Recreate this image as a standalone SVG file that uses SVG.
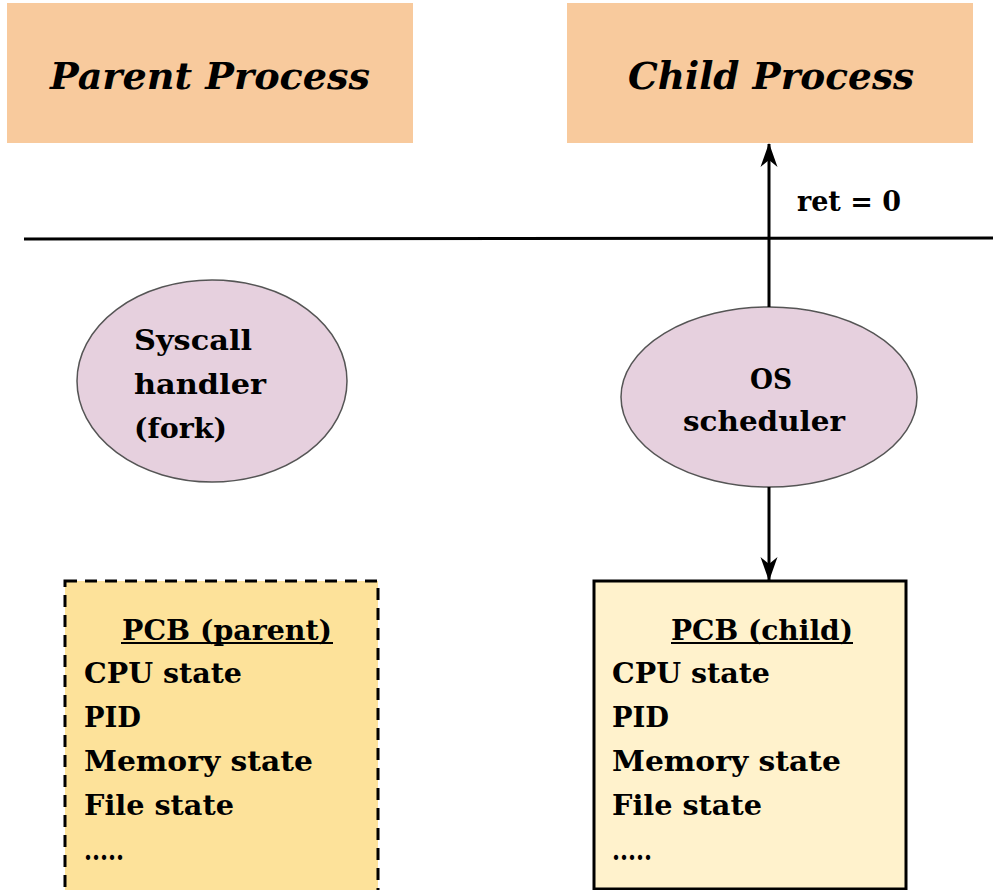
<svg xmlns="http://www.w3.org/2000/svg" width="993" height="890" viewBox="0 0 993 890">
<defs>
<style>
.t{font-family:"DejaVu Serif","Liberation Serif",serif;fill:#000}
.title{font-size:38px;font-style:italic;font-weight:bold}
.lbl{font-size:28px;font-weight:bold}
.pcb{font-size:28px;font-weight:bold}
.hdr{fill:#F8CA9D}
.ell{fill:#E6D0DE;stroke:#555;stroke-width:1.5}
.con{stroke:#000;stroke-width:3;fill:none}
</style>
<marker id="arr" viewBox="0 0 24 18" refX="23" refY="9" markerWidth="24" markerHeight="18" markerUnits="userSpaceOnUse" orient="auto">
<path d="M0,0.5 L24,9 L0,17.5 L7,9 Z" fill="#000"/>
</marker>
</defs>
<rect width="993" height="890" fill="#fff"/>
<g id="parent-process">
<rect class="hdr" x="7" y="3" width="406" height="140"/>
<text class="t title" x="210" y="89" text-anchor="middle" textLength="320" lengthAdjust="spacingAndGlyphs">Parent Process</text>
</g>
<g id="child-process">
<rect class="hdr" x="567" y="3" width="406" height="140"/>
<text class="t title" x="771" y="89" text-anchor="middle" textLength="286" lengthAdjust="spacingAndGlyphs">Child Process</text>
</g>
<g id="divider">
<line x1="24" y1="239" x2="993" y2="238" stroke="#000" stroke-width="3"/>
</g>
<g id="syscall-handler">
<ellipse class="ell" cx="212" cy="381" rx="135" ry="101"/>
<text class="t lbl" x="134" y="350" textLength="118" lengthAdjust="spacingAndGlyphs">Syscall</text>
<text class="t lbl" x="134" y="394" textLength="132" lengthAdjust="spacingAndGlyphs">handler</text>
<text class="t lbl" x="134" y="438" textLength="93" lengthAdjust="spacingAndGlyphs">(fork)</text>
</g>
<g id="os-scheduler">
<ellipse class="ell" cx="769" cy="397" rx="148" ry="90"/>
<text class="t lbl" x="771" y="389" text-anchor="middle" textLength="42" lengthAdjust="spacingAndGlyphs">OS</text>
<text class="t lbl" x="764" y="431" text-anchor="middle" textLength="162" lengthAdjust="spacingAndGlyphs">scheduler</text>
</g>
<g id="pcb-parent">
<rect x="65" y="581" width="313" height="320" fill="#FDE29A" stroke="#000" stroke-width="3" stroke-dasharray="12,8"/>
<text class="t pcb" x="227" y="640" text-anchor="middle" textLength="210" lengthAdjust="spacingAndGlyphs">PCB (parent)</text>
<line x1="121" y1="643" x2="333" y2="643" stroke="#000" stroke-width="2"/>
<text class="t pcb" x="84" y="683" textLength="158" lengthAdjust="spacingAndGlyphs">CPU state</text>
<text class="t pcb" x="84" y="727" textLength="57" lengthAdjust="spacingAndGlyphs">PID</text>
<text class="t pcb" x="84" y="771" textLength="229" lengthAdjust="spacingAndGlyphs">Memory state</text>
<text class="t pcb" x="84" y="815" textLength="150" lengthAdjust="spacingAndGlyphs">File state</text>
<text class="t pcb" x="84" y="860" textLength="40" lengthAdjust="spacingAndGlyphs">.....</text>
</g>
<g id="pcb-child">
<rect x="594" y="581" width="312" height="308" fill="#FFF2CC" stroke="#000" stroke-width="3"/>
<text class="t pcb" x="762" y="640" text-anchor="middle" textLength="182" lengthAdjust="spacingAndGlyphs">PCB (child)</text>
<line x1="671" y1="643" x2="853" y2="643" stroke="#000" stroke-width="2"/>
<text class="t pcb" x="612" y="683" textLength="158" lengthAdjust="spacingAndGlyphs">CPU state</text>
<text class="t pcb" x="612" y="727" textLength="57" lengthAdjust="spacingAndGlyphs">PID</text>
<text class="t pcb" x="612" y="771" textLength="229" lengthAdjust="spacingAndGlyphs">Memory state</text>
<text class="t pcb" x="612" y="815" textLength="150" lengthAdjust="spacingAndGlyphs">File state</text>
<text class="t pcb" x="612" y="860" textLength="40" lengthAdjust="spacingAndGlyphs">.....</text>
</g>
<g id="connectors">
<line class="con" x1="769" y1="307" x2="769" y2="144" marker-end="url(#arr)"/>
<line class="con" x1="769" y1="487" x2="769" y2="580" marker-end="url(#arr)"/>
<text class="t lbl" x="797" y="211" textLength="104" lengthAdjust="spacingAndGlyphs">ret = 0</text>
</g>
</svg>
